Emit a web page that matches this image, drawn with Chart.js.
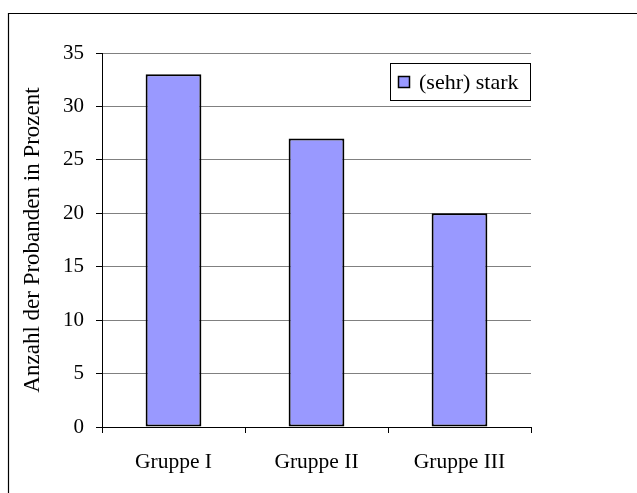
<!DOCTYPE html>
<html>
<head>
<meta charset="utf-8">
<script src="https://cdn.jsdelivr.net/npm/chart.js@4/dist/chart.umd.min.js"></script>
<style>
  html, body { margin: 0; padding: 0; background: #ffffff; }
  canvas { display: block; }
</style>
</head>
<body>
<canvas id="c" width="637" height="493"></canvas>
<script>
const categories = ["Gruppe I", "Gruppe II", "Gruppe III"];
const seriesLabel = "(sehr) stark";
const seriesValues = [33, 27, 20];
const yTicks = [0, 5, 10, 15, 20, 25, 30, 35];
const yTitle = "Anzahl der Probanden in Prozent";

const FONT = "'Liberation Serif', 'Times New Roman', serif";
const BAR_FILL = "#9999FF";

const framePlugin = {
  id: "frame",
  beforeDraw(chart) {
    const ctx = chart.ctx;
    ctx.save();
    ctx.fillStyle = "#ffffff";
    ctx.fillRect(0, 0, chart.width, chart.height);
    ctx.strokeStyle = "#000000";
    ctx.lineWidth = 1.2;
    ctx.beginPath();
    ctx.moveTo(8.5, chart.height + 2);
    ctx.lineTo(8.5, 13.5);
    ctx.lineTo(chart.width + 2, 13.5);
    ctx.stroke();
    ctx.restore();
  }
};

const legendBoxPlugin = {
  id: "legendBox",
  afterDraw(chart) {
    const ctx = chart.ctx;
    const a = chart.chartArea;
    const w = 141, h = 38;
    const x = a.right - w, y = a.top + 10;
    ctx.save();
    ctx.fillStyle = "#ffffff";
    ctx.fillRect(x, y, w, h);
    ctx.strokeStyle = "#000000";
    ctx.lineWidth = 1;
    ctx.strokeRect(x + 0.5, y + 0.5, w - 1, h - 1);
    const ds = chart.data.datasets[0];
    const sx = x + 8, sy = y + h / 2 - 6;
    ctx.fillStyle = ds.backgroundColor;
    ctx.fillRect(sx, sy, 12, 12);
    ctx.lineWidth = 1.5;
    ctx.strokeRect(sx + 0.5, sy + 0.5, 11, 11);
    ctx.fillStyle = "#000000";
    ctx.font = "22px " + FONT;
    ctx.textBaseline = "middle";
    ctx.textAlign = "left";
    ctx.fillText(ds.label, x + 29, y + h / 2 + 1);
    ctx.restore();
  }
};

new Chart(document.getElementById("c"), {
  type: "bar",
  data: {
    labels: categories,
    datasets: [{
      label: seriesLabel,
      data: seriesValues,
      backgroundColor: BAR_FILL,
      borderColor: "#000000",
      borderWidth: 2,
      borderSkipped: false,
      categoryPercentage: 1.0,
      barPercentage: 0.39
    }]
  },
  options: {
    responsive: false,
    animation: false,
    devicePixelRatio: 1,
    layout: { padding: { left: 0, top: 53, right: 106, bottom: 0 } },
    plugins: {
      legend: { display: false },
      tooltip: { enabled: false }
    },
    scales: {
      x: {
        offset: true,
        grid: {
          offset: true,
          drawOnChartArea: false,
          drawTicks: true,
          tickLength: 6,
          tickColor: "#000000",
          color: "#000000"
        },
        border: { display: true, color: "#000000", width: 1 },
        ticks: {
          color: "#000000",
          font: { family: FONT, size: 21.5 },
          padding: 16,
          maxRotation: 0
        },
        afterFit(scale) { scale.height = 66; }
      },
      y: {
        min: 0,
        max: 35,
        afterBuildTicks(scale) { scale.ticks = yTicks.map(v => ({ value: v })); },
        grid: {
          color: (c) => (c.tick && c.tick.value === 0) ? "#000000" : "#808080",
          lineWidth: 1,
          drawTicks: true,
          tickLength: 6,
          tickColor: "#000000"
        },
        border: { display: true, color: "#000000", width: 1 },
        ticks: {
          color: "#000000",
          font: { family: FONT, size: 21 },
          padding: 12
        },
        title: {
          display: true,
          text: yTitle,
          color: "#000000",
          font: { family: FONT, size: 23 },
          padding: { top: 19, bottom: 0 }
        },
        afterFit(scale) { scale.width = 102; }
      }
    }
  },
  plugins: [framePlugin, legendBoxPlugin]
});
</script>
</body>
</html>
